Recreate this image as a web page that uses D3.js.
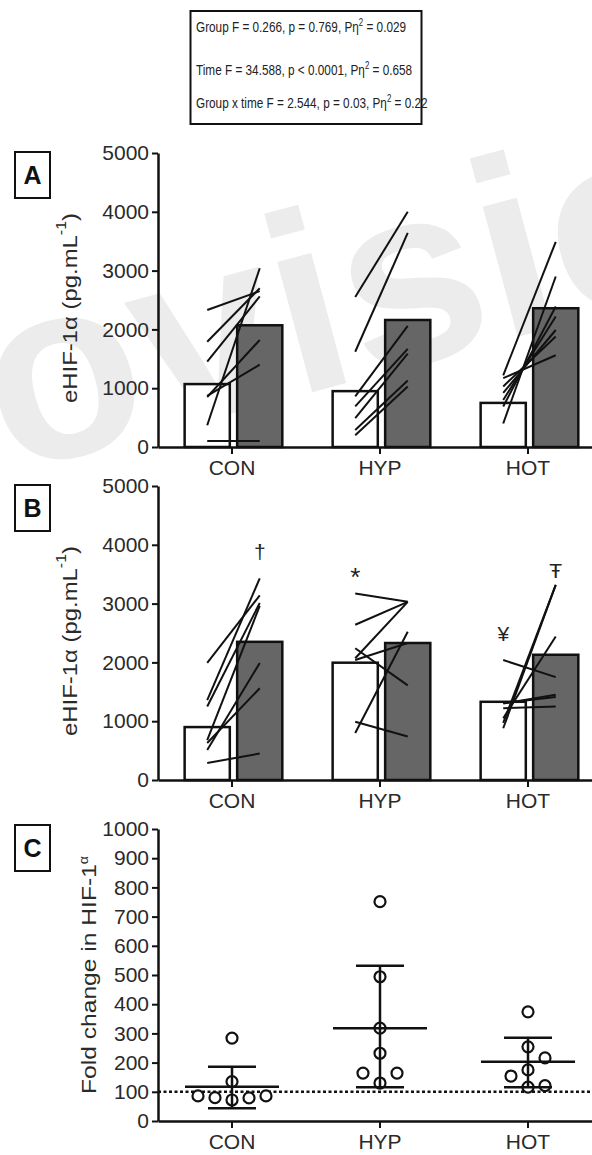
<!DOCTYPE html>
<html>
<head>
<meta charset="utf-8">
<script src="https://cdn.jsdelivr.net/npm/d3@7"></script>
<style>
  body { margin: 0; background: #fff; }
  svg { display: block; }
  text { font-family: "Liberation Sans", Arial, sans-serif; }
</style>
</head>
<body>
<svg id="chart" width="592" height="1155"></svg>
<script>
// ---- data ----
var groups = ["CON", "HYP", "HOT"];
var phases = ["pre", "post"];

// panel A: bar means (pg/mL)
var barPreA = [1070, 950, 750];
var barPostA = [2070, 2160, 2360];
// panel A: individual participants [pre, post]
var indivA_CON = [[2330, 2650], [1790, 2700], [1450, 2560], [870, 1400], [850, 1820], [370, 3040], [100, 100]];
var indivA_HYP = [[2550, 4000], [1620, 3640], [860, 2060], [690, 1670], [490, 1590], [290, 1130], [200, 1030]];
var indivA_HOT = [[1220, 3490], [400, 2900], [690, 2390], [800, 2220], [920, 1990], [1030, 1880], [1170, 1560]];

// panel B
var barPreB = [900, 1995, 1330];
var barPostB = [2350, 2330, 2130];
var indivB_CON = [[1360, 3430], [1990, 3140], [1250, 3010], [680, 2960], [510, 1990], [630, 1560], [290, 450]];
var indivB_HYP = [[3170, 3030], [2640, 3030], [2070, 3030], [2240, 1610], [990, 740], [800, 2520], [2040, 2330]];
var indivB_HOT = [[2040, 1750], [880, 3320], [970, 3320], [1050, 2440], [1310, 1410], [1220, 1250], [1300, 1450]];
// significance marks in B
var markSym = ["\u2020", "*", "\u00A5", "\u0166"];
var markGroup = ["CON", "HYP", "HOT", "HOT"];
var markPhase = ["post", "pre", "pre", "post"];
var markLevel = [3880, 3450, 2500, 3570];

// panel C: fold change
var foldCON = [284, 135, 86, 79, 72, 80, 86];
var foldHYP = [751, 494, 318, 232, 164, 164, 130];
var foldHOT = [374, 254, 216, 175, 154, 116, 121];
var meanC = [117, 318, 203];
var errHiC = [186, 532, 285];
var errLoC = [44, 116, 116];

var yTicksAB = [0, 1000, 2000, 3000, 4000, 5000];
var yTicksC = [0, 100, 200, 300, 400, 500, 600, 700, 800, 900, 1000];

var statsLines = [
  ["Group F = 0.266, p = 0.769, P\u03B7", "2", " = 0.029"],
  ["Time F = 34.588, p < 0.0001, P\u03B7", "2", " = 0.658"],
  ["Group x time  F = 2.544, p = 0.03, P\u03B7", "2", " = 0.22"]
];

// ---- drawing ----
var svg = d3.select("#chart");
var ink = "#111";

// faint watermark behind everything
var fsW = 255;
svg.append("text")
  .attr("transform", "translate(65,387) rotate(-15)")
  .attr("x", -(0.667 + 0.389 + 0.3055) * fsW)
  .attr("y", 0.27 * fsW)
  .style("font-size", fsW + "px")
  .style("font-weight", "bold")
  .attr("fill", "#ececec")
  .text("Provisional");

var x0 = d3.scaleBand().domain(groups).range([158, 602]);
var bw = x0.bandwidth();
var x1 = d3.scaleBand().domain(phases).range([bw * 0.18, bw * 0.84]).paddingInner(0.14);

function styleAxis(g) {
  g.select(".domain").attr("stroke", ink).attr("stroke-width", 2.5);
  g.selectAll(".tick line").attr("stroke", ink).attr("stroke-width", 2);
  g.selectAll(".tick text").attr("fill", "#2a2a2a").style("font-size", "21px");
}

function drawAxes(y, bottom, ticks) {
  svg.append("g")
    .attr("transform", "translate(0," + bottom + ")")
    .call(d3.axisBottom(x0).tickSize(7).tickSizeOuter(0).tickPadding(6))
    .call(styleAxis);
  svg.append("g")
    .attr("transform", "translate(158,0)")
    .call(d3.axisLeft(y).tickValues(ticks).tickFormat(d3.format("d"))
      .tickSize(6).tickSizeOuter(0).tickPadding(3))
    .call(styleAxis);
}

function panelBox(letter, top) {
  svg.append("rect").attr("x", 15).attr("y", top).attr("width", 35).attr("height", 46)
    .attr("fill", "#fff").attr("stroke", ink).attr("stroke-width", 2);
  svg.append("text").attr("x", 32.5).attr("y", top + 23)
    .attr("text-anchor", "middle").attr("dominant-baseline", "central")
    .style("font-size", "25px").style("font-weight", "bold").attr("fill", ink)
    .text(letter);
}

function yTitle(cx, cy, len) {
  return svg.append("text")
    .attr("transform", "translate(" + cx + "," + cy + ") rotate(-90)")
    .attr("text-anchor", "middle").attr("dominant-baseline", "central")
    .attr("textLength", len).attr("lengthAdjust", "spacingAndGlyphs")
    .style("font-size", "21px").attr("fill", "#2a2a2a");
}

function barPanel(top, bottom, pre, post, indiv, letter) {
  var y = d3.scaleLinear().domain([0, 5000]).range([bottom, top]);
  var bars = [];
  groups.forEach(function (g, i) {
    bars.push({ g: g, p: "pre", v: pre[i] });
    bars.push({ g: g, p: "post", v: post[i] });
  });
  svg.append("g").selectAll("rect").data(bars).enter().append("rect")
    .attr("x", function (d) { return x0(d.g) + x1(d.p); })
    .attr("y", function (d) { return y(d.v); })
    .attr("width", x1.bandwidth())
    .attr("height", function (d) { return y(0) - y(d.v); })
    .attr("fill", function (d) { return d.p === "pre" ? "#fff" : "#666"; })
    .attr("stroke", ink).attr("stroke-width", 2.5);

  var segs = [];
  groups.forEach(function (g, i) {
    indiv[i].forEach(function (pair) { segs.push({ g: g, a: pair[0], b: pair[1] }); });
  });
  var cx = function (g, p) { return x0(g) + x1(p) + x1.bandwidth() / 2; };
  svg.append("g").selectAll("line").data(segs).enter().append("line")
    .attr("x1", function (d) { return cx(d.g, "pre"); })
    .attr("x2", function (d) { return cx(d.g, "post"); })
    .attr("y1", function (d) { return y(d.a); })
    .attr("y2", function (d) { return y(d.b); })
    .attr("stroke", ink).attr("stroke-width", 2);

  drawAxes(y, bottom, yTicksAB);
  panelBox(letter, top - 1);
  var t = yTitle(69, (top + bottom) / 2 + 8, 190);
  t.append("tspan").text("eHIF-1\u03B1 (pg.mL");
  t.append("tspan").attr("baseline-shift", "super").style("font-size", "14px").text("-1");
  t.append("tspan").text(")");
  return { y: y, cx: cx };
}

// stats box
svg.append("rect").attr("x", 190.5).attr("y", 11).attr("width", 231).attr("height", 113)
  .attr("fill", "#fff").attr("stroke", ink).attr("stroke-width", 2);
var statsY = [32, 75, 108];
statsLines.forEach(function (ln, i) {
  var t = svg.append("text")
    .attr("transform", "translate(196," + statsY[i] + ") scale(0.785,1)")
    .style("font-size", "15px").attr("fill", "#222");
  t.append("tspan").text(ln[0]);
  t.append("tspan").attr("dy", -6).style("font-size", "10px").text(ln[1]);
  t.append("tspan").attr("dy", 6).text(ln[2]);
});

barPanel(153, 447, barPreA, barPostA, [indivA_CON, indivA_HYP, indivA_HOT], "A");
var pB = barPanel(486, 780, barPreB, barPostB, [indivB_CON, indivB_HYP, indivB_HOT], "B");

svg.append("g").selectAll("text").data(markSym).enter().append("text")
  .attr("x", function (d, i) { return pB.cx(markGroup[i], markPhase[i]); })
  .attr("y", function (d, i) { return pB.y(markLevel[i]); })
  .attr("text-anchor", "middle").attr("dominant-baseline", "central")
  .style("font-size", function (d) { return d === "*" ? "26px" : "21px"; })
  .attr("fill", "#222")
  .text(function (d) { return d; });

// panel C
var yC = d3.scaleLinear().domain([0, 1000]).range([1121, 829]);

function swarm(vals, y, step, minDist) {
  var order = vals.map(function (v, i) { return i; }).sort(function (a, b) { return vals[a] - vals[b]; });
  var placed = [], off = [];
  order.forEach(function (i) {
    var py = y(vals[i]);
    for (var k = 0; k < 20; k++) {
      var o = k === 0 ? 0 : (k % 2 ? Math.ceil(k / 2) : -k / 2) * step;
      var ok = placed.every(function (p) { return Math.hypot(p.x - o, p.y - py) >= minDist; });
      if (ok) { off[i] = o; placed.push({ x: o, y: py }); break; }
    }
  });
  return off;
}

svg.append("line")
  .attr("x1", 158).attr("x2", 602).attr("y1", yC(100)).attr("y2", yC(100))
  .attr("stroke", ink).attr("stroke-width", 2.5).attr("stroke-dasharray", "3,2.5");

var foldAll = [foldCON, foldHYP, foldHOT];
var pts = [];
groups.forEach(function (g, i) {
  var off = swarm(foldAll[i], yC, 17, 15);
  foldAll[i].forEach(function (v, j) {
    pts.push({ x: x0(g) + bw / 2 + off[j], v: v });
  });
});
svg.append("g").selectAll("circle").data(pts).enter().append("circle")
  .attr("cx", function (d) { return d.x; })
  .attr("cy", function (d) { return yC(d.v); })
  .attr("r", 5.5).attr("fill", "#fff").attr("stroke", ink).attr("stroke-width", 2.2);

var eb = svg.append("g").attr("stroke", ink).attr("stroke-width", 2.5);
groups.forEach(function (g, i) {
  var c = x0(g) + bw / 2;
  eb.append("line").attr("x1", c).attr("x2", c).attr("y1", yC(errLoC[i])).attr("y2", yC(errHiC[i]));
  eb.append("line").attr("x1", c - 24).attr("x2", c + 24).attr("y1", yC(errLoC[i])).attr("y2", yC(errLoC[i]));
  eb.append("line").attr("x1", c - 24).attr("x2", c + 24).attr("y1", yC(errHiC[i])).attr("y2", yC(errHiC[i]));
  eb.append("line").attr("x1", c - 47).attr("x2", c + 47).attr("y1", yC(meanC[i])).attr("y2", yC(meanC[i]));
});

drawAxes(yC, 1121, yTicksC);
panelBox("C", 825);
var tC = yTitle(88, 975, 238);
tC.append("tspan").text("Fold change in HIF-1");
tC.append("tspan").attr("dy", -4).style("font-size", "12px").text("\u03B1");
</script>
</body>
</html>
